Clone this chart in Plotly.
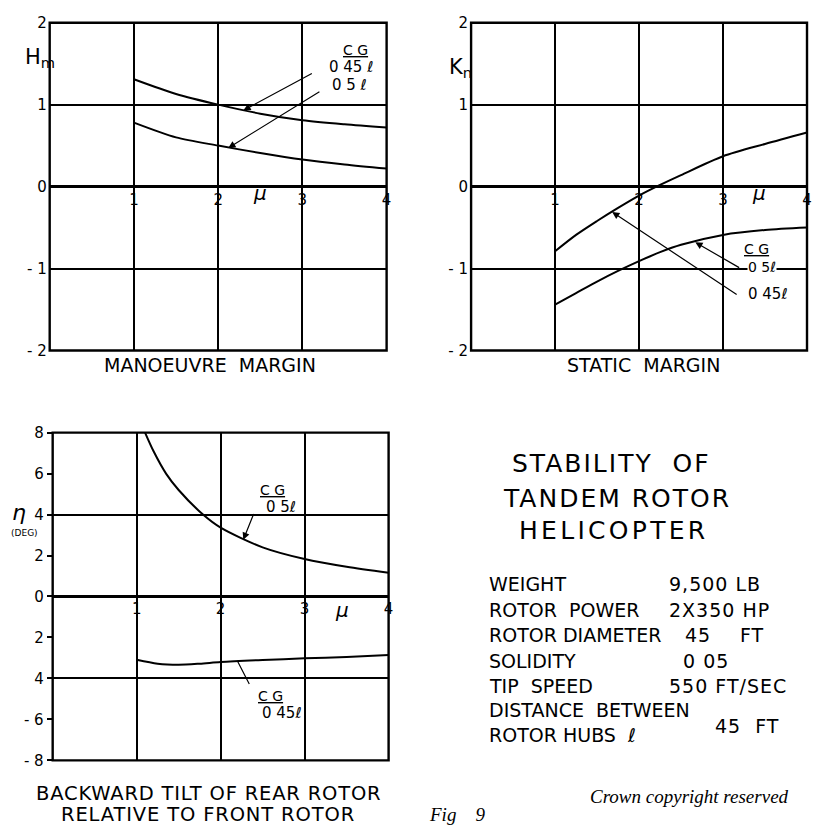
import plotly.graph_objects as go

W, H = 814, 831

# ---- data ----
mu_mm = [1.0, 1.5, 2.0, 2.5, 3.0, 3.5, 4.0]
hm_cg045 = [1.31, 1.13, 1.00, 0.89, 0.81, 0.76, 0.72]
hm_cg05 = [0.78, 0.60, 0.50, 0.41, 0.33, 0.27, 0.22]

mu_sm = [1.0, 1.25, 1.5, 1.75, 2.0, 2.25, 2.5, 3.0, 3.5, 4.0]
kn_cg045 = [-0.79, -0.59, -0.42, -0.26, -0.11, 0.02, 0.14, 0.37, 0.52, 0.66]
kn_cg05 = [-1.44, -1.30, -1.16, -1.03, -0.91, -0.80, -0.71, -0.59, -0.53, -0.50]

mu_eta05 = [1.1, 1.2, 1.35, 1.5, 1.79, 2.0, 2.5, 3.0, 3.5, 4.0]
eta_cg05 = [8.0, 7.1, 6.0, 5.2, 4.0, 3.36, 2.4, 1.83, 1.45, 1.16]
mu_eta045 = [1.0, 1.25, 1.5, 1.75, 2.0, 2.5, 3.0, 3.5, 4.0]
eta_cg045 = [-3.09, -3.28, -3.33, -3.28, -3.20, -3.10, -3.02, -2.95, -2.86]

x_ticks = [1, 2, 3, 4]
y_ticks_margin = [-2, -1, 0, 1, 2]
y_text_margin = ["- 2", "- 1", "0", "1", "2"]
y_ticks_eta = [-8, -6, -4, -2, 0, 2, 4, 6, 8]
y_text_eta = ["- 8", "- 6", "4", "2", "0", "2", "4", "6", "8"]


def px(x):
    return x / W


def py(y):
    return 1 - y / H


FONT = "DejaVu Sans"
BLACK = "black"

fig = go.Figure()

line = dict(color=BLACK, width=2, shape="spline", smoothing=0.8)
fig.add_trace(go.Scatter(x=mu_mm, y=hm_cg045, mode="lines", line=line, xaxis="x", yaxis="y"))
fig.add_trace(go.Scatter(x=mu_mm, y=hm_cg05, mode="lines", line=line, xaxis="x", yaxis="y"))
fig.add_trace(go.Scatter(x=mu_sm, y=kn_cg045, mode="lines", line=line, xaxis="x2", yaxis="y2"))
fig.add_trace(go.Scatter(x=mu_sm, y=kn_cg05, mode="lines", line=line, xaxis="x2", yaxis="y2"))
fig.add_trace(go.Scatter(x=mu_eta05, y=eta_cg05, mode="lines", line=line, xaxis="x3", yaxis="y3"))
fig.add_trace(go.Scatter(x=mu_eta045, y=eta_cg045, mode="lines", line=line, xaxis="x3", yaxis="y3"))

top_dom = [py(349), py(14)]
bot_dom = [py(768), py(433)]
TICKFONT = dict(family=FONT, size=15, color=BLACK)


def xax(dom, pos):
    return dict(domain=dom, range=[0, 4], anchor="free", position=pos,
                tickmode="array", tickvals=x_ticks, ticks="",
                showgrid=True, gridcolor=BLACK, gridwidth=1.8,
                zeroline=False, showline=False,
                tickfont=TICKFONT, ticklabelstandoff=2)


def yax(dom, anchor, rng, vals, text):
    return dict(domain=dom, range=rng, anchor=anchor,
                tickmode="array", tickvals=vals, ticktext=text,
                showgrid=True, gridcolor=BLACK, gridwidth=1.8,
                zeroline=True, zerolinecolor=BLACK, zerolinewidth=2.8,
                showline=False, ticks="", ticklabelstandoff=2,
                tickfont=TICKFONT)


fig.update_layout(
    width=W, height=H, margin=dict(l=0, r=0, t=0, b=0),
    paper_bgcolor="white", plot_bgcolor="white", showlegend=False,
    xaxis=xax([px(50), px(389)], py(181.5)),
    yaxis=yax(top_dom, "x", [-2, 2], y_ticks_margin, y_text_margin),
    xaxis2=xax([px(474), px(812)], py(181.5)),
    yaxis2=yax(top_dom, "x2", [-2, 2], y_ticks_margin, y_text_margin),
    xaxis3=xax([px(53), px(391)], py(600.5)),
    yaxis3=dict(domain=bot_dom, range=[-8, 8], anchor="x3",
                tickmode="array", tickvals=y_ticks_eta, ticktext=y_text_eta,
                ticks="outside", ticklen=5, tickwidth=1.5, tickcolor=BLACK,
                showgrid=False, zeroline=True, zerolinecolor=BLACK, zerolinewidth=2.8,
                showline=False,
                minor=dict(tickmode="array", tickvals=[-4, 4], showgrid=True,
                           gridcolor=BLACK, gridwidth=1.8, ticks=""),
                tickfont=TICKFONT),
)

# frames
for xa, ya in [("x", "y"), ("x2", "y2"), ("x3", "y3")]:
    fig.add_shape(type="rect", xref=f"{xa} domain", yref=f"{ya} domain",
                  x0=0, x1=1, y0=0, y1=1, line=dict(color=BLACK, width=2.4))

ann = []


def text(x, y, t, size, xref="paper", yref="paper", xanchor="center", family=FONT, **kw):
    ann.append(dict(x=x, y=y, xref=xref, yref=yref, text=t, showarrow=False,
                    xanchor=xanchor, yanchor="middle",
                    font=dict(family=family, size=size, color=BLACK), **kw))


def arrow(xr, yr, hx, hy, tx, ty, head=2):
    ann.append(dict(x=hx, y=hy, ax=tx, ay=ty, xref=xr, yref=yr, axref=xr, ayref=yr,
                    text="", showarrow=True, arrowhead=head, arrowsize=1.2,
                    arrowwidth=1.2, arrowcolor=BLACK))


sp = '<span style="letter-spacing:{}px">{}</span>'

# axis names
text(px(23), py(50), "H<sub>m</sub>", 21, xanchor="left")
text(px(450), py(60), "K<sub>n</sub>", 21, xanchor="left")
text(px(19), py(515), "<i>η</i>", 22)
text(px(25), py(536), "(DEG)", 9)

# mu labels
text(2.50, -0.08, "<i>μ</i>", 20, xref="x", yref="y")
text(3.43, -0.08, "<i>μ</i>", 20, xref="x2", yref="y2")
text(3.44, -0.65, "<i>μ</i>", 20, xref="x3", yref="y3")

# top-left curve labels
text(3.63, 1.67, "<u>C G</u>", 14, xref="x", yref="y")
text(3.58, 1.46, "0 45 ℓ", 15, xref="x", yref="y")
text(3.56, 1.24, "0 5 ℓ", 15, xref="x", yref="y")
arrow("x", "y", 2.30, 0.93, 3.13, 1.39)
arrow("x", "y", 2.12, 0.47, 3.22, 1.17)

# top-right curve labels
text(3.40, -0.76, "<u>C G</u>", 14, xref="x2", yref="y2")
text(3.47, -0.98, "0 5ℓ", 14, xref="x2", yref="y2", bgcolor="white", borderpad=0)
text(3.54, -1.31, "0 45ℓ", 15, xref="x2", yref="y2")
arrow("x2", "y2", 2.67, -0.68, 3.21, -1.0)
arrow("x2", "y2", 1.68, -0.31, 3.18, -1.33)

# bottom curve labels
text(2.62, 5.2, "<u>C G</u>", 14, xref="x3", yref="y3")
text(2.72, 4.38, "0 5ℓ", 15, xref="x3", yref="y3")
arrow("x3", "y3", 2.27, 2.77, 2.40, 4.1)
text(2.59, -4.85, "<u>C G</u>", 14, xref="x3", yref="y3", bgcolor="white", borderpad=0)
text(2.73, -5.7, "0 45ℓ", 15, xref="x3", yref="y3")
arrow("x3", "y3", 2.20, -3.15, 2.35, -4.35, head=0)

# panel captions
text(px(211), py(364), "MANOEUVRE  MARGIN", 19)
text(px(647), py(364), "STATIC  MARGIN", 19)
text(px(210), py(801.5), sp.format(0.8, "BACKWARD TILT OF REAR ROTOR"), 19.5)
text(px(209), py(823), sp.format(0.85, "RELATIVE TO FRONT ROTOR"), 19.5)

# title block
text(px(615), py(465), sp.format(2, "STABILITY  OF"), 25)
text(px(621), py(500), sp.format(2, "TANDEM ROTOR"), 25)
text(px(618), py(533), sp.format(3.3, "HELICOPTER"), 25)

rows = [
    ("WEIGHT", 588), ("ROTOR  POWER", 614), ("ROTOR DIAMETER", 640),
    ("SOLIDITY", 666), ("TIP  SPEED", 692), ("DISTANCE  BETWEEN", 717),
    ("ROTOR HUBS  <i>ℓ</i>", 742),
]
for t, y in rows:
    text(px(490), py(y), t, 19, xanchor="left")

vals = [
    ("9,500 LB", 671, 588), ("2X350 HP", 671, 614), ("45", 687, 640), ("FT", 743, 640),
    ("0 05", 685, 666), ("550 FT/SEC", 671, 692), ("45  FT", 717, 733),
]
for t, x, y in vals:
    text(px(x), py(y), sp.format(1, t), 19, xanchor="left")

text(px(592), py(805), "<i>Crown copyright reserved</i>", 19, xanchor="left",
     family="Liberation Serif")
text(px(430), py(823), "<i>Fig\u00a0\u00a0\u00a0\u00a09</i>", 19, xanchor="left",
     family="Liberation Serif")

fig.update_layout(annotations=ann)
fig.write_html("out.html")
